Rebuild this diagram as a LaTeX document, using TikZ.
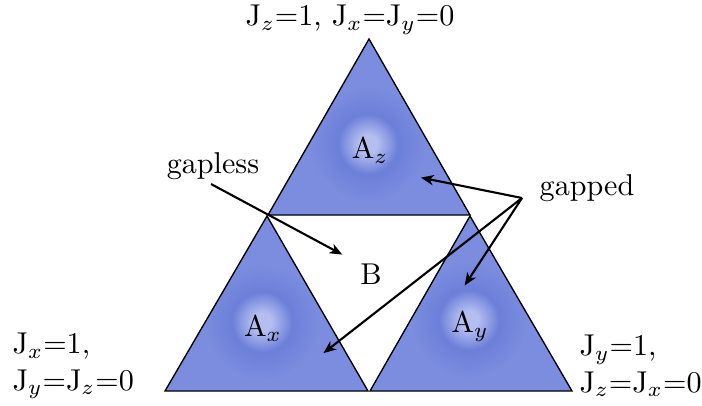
\documentclass[tikz,border=0pt]{standalone}
\usetikzlibrary{arrows.meta}
\definecolor{triblue}{RGB}{124,141,223}
\definecolor{glowmid}{RGB}{108,127,217}
\definecolor{glowin}{RGB}{180,190,240}
\pgfdeclareradialshading{glow}{\pgfpoint{0bp}{0bp}}{color(0bp)=(glowin); color(4bp)=(glowin); color(13bp)=(glowmid); color(25bp)=(triblue); color(50bp)=(triblue)}
\tikzset{
  tri/.style={draw, line width=0.45pt, line join=miter},
  lbl/.style={inner sep=1pt},
  arr/.style={->, line width=0.7pt, shorten >=1pt}
}

\begin{document}
\begin{tikzpicture}[x=0.332pt, y=-0.332pt, >={Stealth[length=4.2pt, width=3.4pt, inset=1.2pt]}]
				\useasboundingbox (0,0) rectangle (702,405);
				% corners of the three triangles
				\coordinate (zt) at (369,39);  \coordinate (zl) at (268,215); \coordinate (zr) at (470,215);
				\coordinate (xt) at (267,216); \coordinate (xl) at (165,391); \coordinate (xr) at (368,391);
				\coordinate (yt) at (470,216); \coordinate (yl) at (370,391); \coordinate (yr) at (572,391);
				\foreach \t/\cx/\cy in {z/368/144, x/262/322, y/469/320}{
					\fill[triblue] (\t t) -- (\t l) -- (\t r) -- cycle;
					\begin{scope}
						\clip (\t t) -- (\t l) -- (\t r) -- cycle;
						\shade[shading=glow] (\cx,\cy) circle (58);
					\end{scope}
					\draw[tri] (\t t) -- (\t l) -- (\t r) -- cycle;
				}
				\node[lbl] (Az) at (370,150) {A$_z$};
				\node[lbl] (Ax) at (263,328) {A$_x$};
				\node[lbl] (Ay) at (470,326) {A$_y$};
				\node[lbl] (B) at (371,274) {B};
				\node[lbl] (top) at (350,20) {J$_z$=1, J$_x$=J$_y$=0};
				\node[lbl, align=left, anchor=west] (left) at (9,366) {J$_x$=1,\\J$_y$=J$_z$=0};
				\node[lbl, align=left, anchor=west] (right) at (576,366) {J$_y$=1,\\J$_z$=J$_x$=0};
				\node[lbl] (gapless) at (213,166) {gapless};
				\node[lbl] (gapped) at (587,188) {gapped};
				\coordinate (gs) at (211,184);
				\coordinate (gp) at (522,198);
				\coordinate (tipB) at (345,256);
				\coordinate (tipz) at (418,177);
				\coordinate (tipx) at (321,355);
				\coordinate (tipy) at (463,288);
				\path[arr]
				(gs) edge (tipB)
				(gp) edge (tipz)
				(gp) edge (tipx)
				(gp) edge (tipy);
			\end{tikzpicture}
\end{document}
